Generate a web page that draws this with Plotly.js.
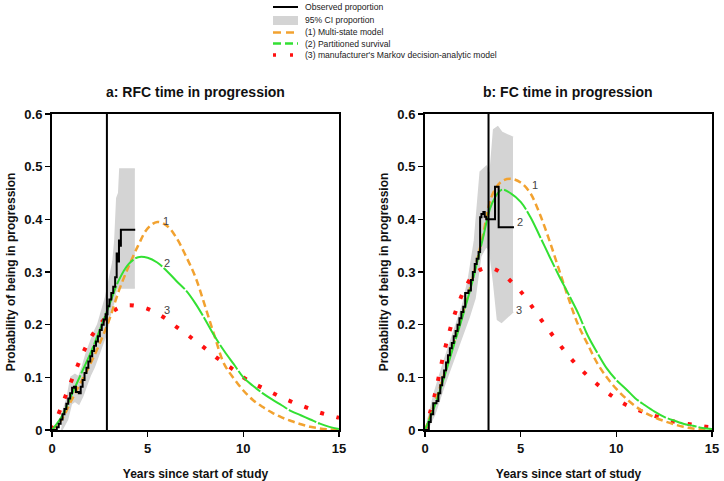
<!DOCTYPE html>
<html>
<head>
<meta charset="utf-8">
<script src="https://cdn.plot.ly/plotly-3.0.1.min.js"></script>
<style>
  body { margin: 0; background: #fff; }
  #plot { width: 724px; height: 481px; }
</style>
</head>
<body>
<div id="plot"></div>
<script>
// Model curve grid (years)
let years = [0, 0.5, 1, 1.5, 2, 2.5, 3, 3.5, 4, 4.5, 5, 5.5, 6, 6.5, 7, 7.5, 8, 8.5, 9, 9.5, 10, 10.5, 11, 11.5, 12, 12.5, 13, 13.5, 14, 14.5, 15];

// a: RFC model predictions
let rfcMultiState = [0, 0.02, 0.055, 0.09, 0.125, 0.165, 0.21, 0.265, 0.31, 0.35, 0.383, 0.395, 0.388, 0.365, 0.33, 0.29, 0.235, 0.178, 0.125, 0.098, 0.075, 0.057, 0.044, 0.033, 0.024, 0.017, 0.011, 0.006, 0.003, 0.001, 0];
let rfcPartitioned = [0, 0.025, 0.065, 0.105, 0.145, 0.19, 0.238, 0.285, 0.315, 0.328, 0.327, 0.318, 0.302, 0.283, 0.265, 0.24, 0.21, 0.178, 0.15, 0.125, 0.1, 0.084, 0.07, 0.058, 0.047, 0.036, 0.028, 0.02, 0.012, 0.006, 0.002];
let rfcMarkov = [0, 0.045, 0.092, 0.136, 0.174, 0.2, 0.22, 0.232, 0.237, 0.235, 0.23, 0.221, 0.21, 0.196, 0.183, 0.169, 0.155, 0.14, 0.127, 0.114, 0.1, 0.089, 0.08, 0.071, 0.062, 0.054, 0.047, 0.04, 0.033, 0.028, 0.023];

// a: RFC observed proportion (step function)
let rfcObsX = [0, 0.25, 0.35, 0.45, 0.55, 0.65, 0.75, 0.85, 0.95, 1.05, 1.15, 1.25, 1.4, 1.5, 1.6, 1.7, 1.8, 1.9, 2.0, 2.1, 2.2, 2.3, 2.4, 2.5, 2.6, 2.7, 2.8, 2.9, 3.0, 3.1, 3.2, 3.3, 3.38, 3.45, 3.5, 3.55, 3.6, 4.35];
let rfcObsY = [0, 0.005, 0.012, 0.02, 0.03, 0.04, 0.05, 0.06, 0.07, 0.08, 0.082, 0.072, 0.07, 0.082, 0.095, 0.108, 0.118, 0.13, 0.14, 0.15, 0.16, 0.168, 0.178, 0.19, 0.2, 0.21, 0.22, 0.235, 0.248, 0.26, 0.272, 0.29, 0.335, 0.32, 0.36, 0.35, 0.38, 0.38];

// a: RFC 95% CI
let rfcCiX = [0.5, 0.8, 1.0, 1.2, 1.4, 1.6, 1.8, 2.0, 2.2, 2.4, 2.6, 2.8, 3.0, 3.2, 3.3, 3.4, 3.5, 3.56, 4.33];
let rfcCiUpper = [0.025, 0.06, 0.1, 0.105, 0.1, 0.12, 0.145, 0.165, 0.185, 0.2, 0.225, 0.25, 0.285, 0.32, 0.36, 0.44, 0.45, 0.495, 0.495];
let rfcCiLower = [0, 0.02, 0.05, 0.055, 0.05, 0.065, 0.085, 0.105, 0.12, 0.14, 0.16, 0.18, 0.215, 0.24, 0.26, 0.27, 0.27, 0.27, 0.27];

// b: FC model predictions
let fcMultiState = [0, 0.05, 0.105, 0.165, 0.225, 0.29, 0.365, 0.445, 0.472, 0.477, 0.47, 0.45, 0.41, 0.36, 0.305, 0.25, 0.2, 0.163, 0.127, 0.1, 0.078, 0.06, 0.045, 0.033, 0.024, 0.017, 0.011, 0.006, 0.003, 0.001, 0];
let fcPartitioned = [0, 0.045, 0.1, 0.16, 0.22, 0.285, 0.36, 0.43, 0.456, 0.449, 0.433, 0.405, 0.368, 0.33, 0.293, 0.258, 0.222, 0.18, 0.147, 0.117, 0.095, 0.078, 0.06, 0.047, 0.035, 0.025, 0.018, 0.012, 0.008, 0.004, 0.002];
let fcMarkov = [0, 0.065, 0.148, 0.214, 0.262, 0.293, 0.306, 0.307, 0.298, 0.282, 0.263, 0.239, 0.213, 0.188, 0.164, 0.141, 0.121, 0.103, 0.087, 0.072, 0.059, 0.048, 0.04, 0.033, 0.027, 0.021, 0.016, 0.013, 0.01, 0.007, 0.005];

// b: FC observed proportion (step function)
let fcObsX = [0, 0.1, 0.2, 0.3, 0.43, 0.6, 0.7, 0.8, 0.9, 1.0, 1.1, 1.2, 1.3, 1.4, 1.5, 1.6, 1.7, 1.8, 1.9, 2.0, 2.1, 2.27, 2.4, 2.5, 2.6, 2.7, 2.8, 2.88, 2.95, 3.05, 3.12, 3.2, 3.66, 3.85, 4.65];
let fcObsY = [0, 0, 0.015, 0.03, 0.051, 0.055, 0.07, 0.085, 0.1, 0.113, 0.128, 0.142, 0.155, 0.165, 0.178, 0.188, 0.2, 0.212, 0.224, 0.234, 0.26, 0.265, 0.285, 0.3, 0.315, 0.325, 0.338, 0.404, 0.41, 0.414, 0.405, 0.4, 0.462, 0.385, 0.385];

// b: FC 95% CI
let fcCiX = [0.1, 0.5, 1.0, 1.5, 2.0, 2.3, 2.6, 2.9, 3.2, 3.4, 3.6, 3.8, 4.0, 4.3, 4.6];
let fcCiUpper = [0.01, 0.07, 0.13, 0.185, 0.24, 0.29, 0.36, 0.49, 0.5, 0.48, 0.57, 0.575, 0.565, 0.56, 0.555];
let fcCiLower = [0, 0.03, 0.085, 0.135, 0.185, 0.215, 0.25, 0.33, 0.35, 0.34, 0.28, 0.21, 0.205, 0.215, 0.225];

// Reference vertical lines (years)
let rfcCutoff = 2.87;
let fcCutoff = 3.32;

// Legend labels
let legendNames = ["Observed proportion", "95% CI proportion", "(1) Multi-state model", "(2) Partitioned survival", "(3) manufacturer's Markov decision-analytic model"];

let orange = "#F2A230";
let green = "#33E033";
let red = "#FF1010";
let gray = "#D4D4D4";
let fam = "Liberation Sans, Arial, sans-serif";

// Build the traces for one panel
function panelTraces(xa, ya, ciX, ciLo, ciUp, obsX, obsY, ms, ps, mk) {
  return [
    { x: ciX, y: ciLo, xaxis: xa, yaxis: ya, mode: "lines", line: { color: gray, width: 2 }, showlegend: false, hoverinfo: "skip" },
    { x: ciX, y: ciUp, xaxis: xa, yaxis: ya, mode: "lines", fill: "tonexty", fillcolor: gray, line: { color: gray, width: 2 }, showlegend: false, hoverinfo: "skip" },
    { x: years, y: mk, xaxis: xa, yaxis: ya, mode: "lines", line: { color: red, width: 4, dash: "4px,13px", shape: "spline" }, showlegend: false },
    { x: years, y: ms, xaxis: xa, yaxis: ya, mode: "lines", line: { color: orange, width: 2.5, dash: "7px,4px", shape: "spline" }, showlegend: false },
    { x: years, y: ps, xaxis: xa, yaxis: ya, mode: "lines", line: { color: green, width: 2, dash: "30px,2px", shape: "spline" }, showlegend: false },
    { x: obsX, y: obsY, xaxis: xa, yaxis: ya, mode: "lines", line: { color: "black", width: 2, shape: "hv" }, showlegend: false }
  ];
}

let data = panelTraces("x", "y", rfcCiX, rfcCiLower, rfcCiUpper, rfcObsX, rfcObsY, rfcMultiState, rfcPartitioned, rfcMarkov)
  .concat(panelTraces("x2", "y2", fcCiX, fcCiLower, fcCiUpper, fcObsX, fcObsY, fcMultiState, fcPartitioned, fcMarkov));

let tickFont = { family: fam, size: 13, color: "#111", weight: "bold" };
let titleFont = { family: fam, size: 12, color: "#111", weight: "bold" };

function xAxis(domain, anchor) {
  return {
    domain: domain, anchor: anchor, range: [0, 15], dtick: 5, tick0: 0,
    showgrid: false, zeroline: false, showline: true, mirror: true,
    linecolor: "black", linewidth: 2, ticks: "outside", ticklen: 5, tickwidth: 1.5, tickcolor: "black",
    tickfont: tickFont,
    title: { text: "Years since start of study", font: titleFont, standoff: 16 }
  };
}
function yAxis(domain, anchor) {
  return {
    domain: domain, anchor: anchor, range: [0, 0.6], dtick: 0.1, tick0: 0,
    showgrid: false, zeroline: false, showline: true, mirror: true,
    linecolor: "black", linewidth: 2, ticks: "outside", ticklen: 5, tickwidth: 1.5, tickcolor: "black",
    tickfont: tickFont,
    title: { text: "Probability of being in progression", font: titleFont, standoff: 6 }
  };
}

// Manual legend block at the top
let legendRowsY = [7, 20.5, 32.5, 43.5, 55];
let legendStyles = [
  { color: "black", width: 2 },
  { color: gray, width: 9 },
  { color: orange, width: 2.5, dash: "8px,5px" },
  { color: green, width: 2.5, dash: "8px,4px" },
  { color: red, width: 3.5, dash: "3px,14px" }
];
let shapes = [];
let annotations = [];
for (let i = 0; i < legendNames.length; i++) {
  let yp = 1 - legendRowsY[i] / 481;
  shapes.push({ type: "line", xref: "paper", yref: "paper", x0: 273 / 724, x1: 298 / 724, y0: yp, y1: yp, line: legendStyles[i] });
  annotations.push({ xref: "paper", yref: "paper", x: 303 / 724, y: yp, xanchor: "left", yanchor: "middle", text: legendNames[i], showarrow: false, font: { family: fam, size: 8.6, color: "#222" } });
}

// Vertical reference lines
shapes.push({ type: "line", xref: "x", yref: "y", x0: rfcCutoff, x1: rfcCutoff, y0: 0, y1: 0.6, line: { color: "black", width: 2 } });
shapes.push({ type: "line", xref: "x2", yref: "y2", x0: fcCutoff, x1: fcCutoff, y0: 0, y1: 0.6, line: { color: "black", width: 2 } });

// Panel titles
let panelTitleFont = { family: fam, size: 14, color: "#111", weight: "bold" };
annotations.push({ xref: "paper", yref: "paper", x: 195 / 724, y: 1 - 92 / 481, xanchor: "center", yanchor: "middle", text: "a: RFC time in progression", showarrow: false, font: panelTitleFont });
annotations.push({ xref: "paper", yref: "paper", x: 568 / 724, y: 1 - 92 / 481, xanchor: "center", yanchor: "middle", text: "b: FC time in progression", showarrow: false, font: panelTitleFont });

// Curve number labels
let labelFont = { family: fam, size: 11, color: "#444" };
let curveLabels = [
  { ax: "x", ay: "y", x: 5.96, y: 0.397, t: "1" },
  { ax: "x", ay: "y", x: 6.0, y: 0.317, t: "2" },
  { ax: "x", ay: "y", x: 6.0, y: 0.228, t: "3" },
  { ax: "x2", ay: "y2", x: 5.75, y: 0.465, t: "1" },
  { ax: "x2", ay: "y2", x: 4.97, y: 0.395, t: "2" },
  { ax: "x2", ay: "y2", x: 4.91, y: 0.228, t: "3" }
];
for (let i = 0; i < curveLabels.length; i++) {
  let c = curveLabels[i];
  annotations.push({ xref: c.ax, yref: c.ay, x: c.x, y: c.y, text: c.t, showarrow: false, font: labelFont });
}

let layout = {
  width: 724,
  height: 481,
  margin: { l: 0, r: 0, t: 0, b: 0 },
  paper_bgcolor: "white",
  plot_bgcolor: "white",
  showlegend: false,
  xaxis: xAxis([52 / 724, 339 / 724], "y"),
  yaxis: yAxis([1 - 430 / 481, 1 - 114 / 481], "x"),
  xaxis2: xAxis([425 / 724, 712 / 724], "y2"),
  yaxis2: yAxis([1 - 430 / 481, 1 - 114 / 481], "x2"),
  shapes: shapes,
  annotations: annotations
};

Plotly.newPlot("plot", data, layout, { displayModeBar: false, staticPlot: true });
</script>
</body>
</html>
